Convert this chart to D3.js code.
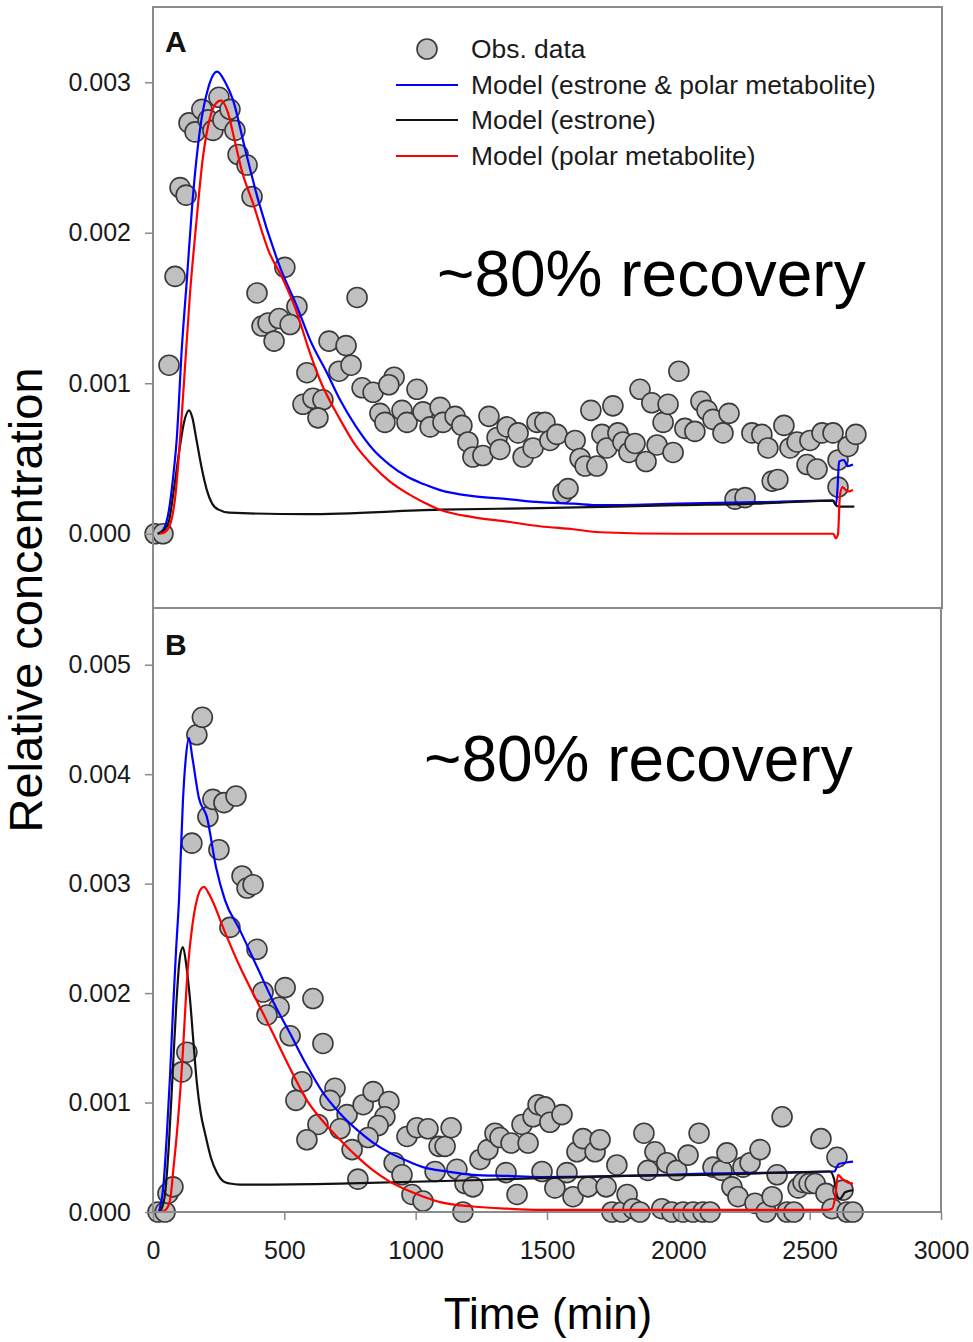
<!DOCTYPE html>
<html>
<head>
<meta charset="utf-8">
<script src="https://cdn.jsdelivr.net/npm/d3@7"></script>
<style>
  body { margin: 0; background: #fff; }
  svg { display: block; font-family: "Liberation Sans", Arial, sans-serif; }
</style>
</head>
<body>
<svg id="chart" width="973" height="1342"></svg>
<script>
// ---------- DATA ----------
const xTicks = [0, 500, 1000, 1500, 2000, 2500, 3000];
const yTicksA = [0, 0.001, 0.002, 0.003];
const yTicksB = [0, 0.001, 0.002, 0.003, 0.004, 0.005];
const legendLabels = ["Obs. data", "Model (estrone & polar metabolite)", "Model (estrone)", "Model (polar metabolite)"];
const panelLabels = ["A", "B"];
const noteText = "~80% recovery";

// Panel A observations [time (min), relative concentration]
const obsA = [
  [8,0],[38,0],[61,0.00112],[84,0.00171],[103,0.00230],[126,0.00225],
  [137,0.00273],[160,0.00267],[186,0.00282],[210,0.00275],[228,0.00268],[251,0.00290],
  [266,0.00275],[293,0.00282],[312,0.00268],[324,0.00252],[358,0.00245],[377,0.00224],
  [396,0.00160],[502,0.00177],[548,0.00151],[777,0.00157],
  [415,0.00138],[438,0.00140],[480,0.00143],[522,0.00139],[461,0.00128],[670,0.00128],[735,0.00125],
  [586,0.00107],[708,0.00108],[754,0.00112],[571,0.00086],[609,0.00090],[647,0.00089],[628,0.00077],
  [796,0.00097],[838,0.00094],[918,0.00104],[898,0.00099],[864,0.00080],[883,0.00074],[948,0.00082],
  [967,0.00074],[1005,0.00096],[1028,0.00081],[1055,0.00071],[1093,0.00084],[1104,0.00074],[1150,0.00078],
  [1176,0.00072],[1199,0.00061],[1218,0.00051],[1256,0.00052],[1279,0.00078],[1310,0.00064],[1321,0.00056],
  [1348,0.00071],[1390,0.00067],[1409,0.00051],[1447,0.00057],[1462,0.00074],
  [1492,0.00074],[1511,0.00062],[1538,0.00066],[1561,0.00027],[1580,0.00030],[1607,0.00062],[1626,0.00050],
  [1645,0.00045],[1667,0.00082],[1690,0.00045],[1709,0.00066],[1728,0.00057],[1751,0.00085],[1770,0.00067],
  [1789,0.00061],[1812,0.00054],[1835,0.00060],[1854,0.00096],[1877,0.00048],[1899,0.00087],[1919,0.00059],
  [1942,0.00074],[1961,0.00086],[1980,0.00054],[2002,0.00108],[2025,0.00070],[2063,0.00068],[2086,0.00088],
  [2109,0.00082],[2132,0.00076],[2170,0.00067],[2193,0.00080],[2216,0.00023],[2254,0.00024],[2280,0.00067],
  [2318,0.00066],[2341,0.00057],[2357,0.00035],[2379,0.00036],[2402,0.00072],[2425,0.00057],[2452,0.00061],
  [2490,0.00046],[2501,0.00062],[2528,0.00043],[2547,0.00067],[2589,0.00067],[2608,0.00049],[2608,0.00031],
  [2646,0.00058],[2676,0.00066]
];
// Panel A model curves
const modelTotalA = [
  [18,0],[40,0.00003],[60,0.00015],[75,0.00035],[90,0.00062],[110,0.00124],[129,0.00169],[150,0.00220],
  [180,0.00270],[210,0.00296],[244,0.00307],[275,0.00300],[305,0.00288],[350,0.00256],[400,0.00222],
  [484,0.00177],[548,0.00151],[600,0.00128],[662,0.00107],[712,0.00089],[770,0.00072],[838,0.00056],
  [900,0.00046],[967,0.00038],[1030,0.00033],[1093,0.00029],[1218,0.00025],[1350,0.00023],[1473,0.00021],
  [1600,0.00020],[1702,0.00019],[2000,0.00020],[2300,0.00021],[2589,0.00022],[2600,0.00019],[2606,0.00030],
  [2612,0.00048],[2630,0.00049],[2645,0.00045],[2665,0.00046]
];
const modelEstroneA = [
  [18,0],[40,0.00002],[60,0.00008],[80,0.00030],[100,0.00055],[118,0.00074],[137,0.00082],[150,0.00077],
  [165,0.00063],[185,0.00044],[205,0.00029],[225,0.00020],[250,0.00016],[290,0.00014],[586,0.00013],
  [1093,0.00016],[1473,0.00017],[2000,0.00019],[2300,0.00020],[2589,0.00022],[2600,0.00019],[2612,0.00018],[2670,0.00018]
];
const modelPolarA = [
  [25,0],[45,0.00001],[65,0.00006],[85,0.00025],[110,0.00080],[141,0.00160],[164,0.00205],[190,0.00250],
  [215,0.00275],[240,0.00286],[259,0.00288],[285,0.00280],[310,0.00262],[340,0.00240],[380,0.00220],
  [440,0.00188],[495,0.00169],[548,0.00147],[590,0.00124],[636,0.00102],[712,0.00076],[770,0.00059],
  [838,0.00045],[900,0.00035],[967,0.00027],[1030,0.00021],[1093,0.00016],[1218,0.00011],[1350,0.00008],
  [1473,0.00005],[1600,0.00003],[1702,0.00001],[2000,0],[2300,0],[2590,0],[2600,-0.00003],[2608,0.00000],
  [2615,0.00025],[2625,0.00031],[2645,0.00028],[2665,0.00029]
];

// Panel B observations
const obsB = [
  [19,0],[46,0],[57,0.00017],[76,0.00023],[110,0.00128],[129,0.00146],[148,0.00337],[167,0.00436],
  [188,0.00452],[209,0.00361],[228,0.00377],[251,0.00331],[270,0.00374],[316,0.00380],[339,0.00307],
  [358,0.00296],[381,0.00299],[293,0.00260],[396,0.00240],[419,0.00201],[503,0.00205],[609,0.00195],
  [480,0.00187],[434,0.00180],[522,0.00161],[647,0.00154],[567,0.00119],[544,0.00102],[693,0.00113],
  [674,0.00102],[628,0.00080],[586,0.00066],[739,0.00089],[712,0.00076],[800,0.00098],[838,0.00110],
  [898,0.00101],[883,0.00087],[857,0.00079],[819,0.00068],[758,0.00057],[780,0.00030],[918,0.00045],
  [948,0.00034],[986,0.00016],[1028,0.00010],[967,0.00069],[1005,0.00077],[1047,0.00076],[1089,0.00060],
  [1112,0.00060],[1135,0.00077],[1074,0.00037],[1157,0.00039],[1188,0.00026],[1218,0.00023],[1180,0],
  [1245,0.00048],[1275,0.00057],[1302,0.00072],[1321,0.00068],[1344,0.00036],[1363,0.00063],[1386,0.00016],
  [1405,0.00080],[1428,0.00063],[1447,0.00087],[1466,0.00098],
  [1492,0.00096],[1511,0.00082],[1557,0.00089],[1481,0.00037],[1530,0.00022],[1576,0.00036],[1599,0.00014],
  [1614,0.00055],[1637,0.00067],[1656,0.00023],[1683,0.00055],[1702,0.00066],[1725,0.00023],[1747,0],
  [1766,0.00043],[1785,0],[1805,0.00016],[1828,0.00003],[1854,0],[1869,0.00072],[1884,0.00038],
  [1911,0.00055],[1937,0.00003],[1956,0.00045],[1975,0],[1994,0.00038],[2018,0],[2037,0.00052],[2056,0],
  [2079,0.00072],[2094,0],[2121,0],[2132,0.00041],[2166,0.00038],[2185,0.00054],[2204,0.00023],
  [2227,0.00014],[2246,0.00041],[2273,0.00045],[2292,0.00008],[2311,0.00057],[2334,0],[2357,0.00014],
  [2376,0.00034],[2395,0.00087],[2414,0],[2440,0],[2456,0.00022],[2475,0.00027],[2498,0.00026],
  [2521,0.00026],[2543,0.00067],[2562,0.00017],[2585,0.00003],[2604,0.00050],[2627,0.00020],[2642,0],[2665,0]
];
// Panel B model curves
const modelTotalB = [
  [22,0],[40,0.00025],[53,0.00072],[65,0.00125],[76,0.00184],[88,0.00240],[99,0.00285],[114,0.00376],
  [125,0.00415],[137,0.00433],[150,0.00415],[175,0.00378],[205,0.00361],[240,0.00315],[274,0.00285],
  [330,0.00258],[396,0.00224],[460,0.00191],[522,0.00163],[585,0.00134],[647,0.00109],[712,0.00090],
  [777,0.00075],[840,0.00063],[902,0.00054],[965,0.00047],[1028,0.00041],[1120,0.00037],[1218,0.00034],
  [1350,0.00033],[1473,0.00032],[1800,0.00033],[2100,0.00035],[2400,0.00036],[2577,0.00037],[2595,0.00037],
  [2603,0.00041],[2612,0.00044],[2635,0.00045],[2665,0.00046]
];
const modelEstroneB = [
  [27,0],[45,0.00015],[60,0.00060],[76,0.00132],[90,0.00195],[102,0.00232],[114,0.00242],[127,0.00225],
  [141,0.00194],[154,0.00155],[167,0.00118],[182,0.00090],[198,0.00072],[220,0.00050],[243,0.00036],
  [268,0.00028],[293,0.00026],[331,0.00025],[712,0.00026],[1218,0.00029],[1473,0.00031],[1800,0.00033],
  [2100,0.00034],[2400,0.00036],[2577,0.00037],[2593,0.00030],[2605,0.00014],[2615,0.00012],[2635,0.00018],[2665,0.00020]
];
const modelPolarB = [
  [27,0],[48,0.00002],[65,0.00011],[78,0.00040],[91,0.00072],[110,0.00132],[133,0.00224],[150,0.00262],
  [167,0.00285],[182,0.00295],[194,0.00297],[210,0.00292],[225,0.00285],[270,0.00258],[331,0.00224],
  [395,0.00193],[457,0.00163],[520,0.00132],[586,0.00102],[650,0.00082],[712,0.00066],[775,0.00051],
  [838,0.00038],[900,0.00028],[967,0.00020],[1030,0.00014],[1093,0.00009],[1218,0.00005],[1350,0.00003],
  [1473,0.00002],[1800,0.00002],[2100,0.00002],[2400,0.00002],[2566,0.00002],[2585,0.00003],[2598,0.00015],
  [2608,0.00034],[2625,0.00030],[2645,0.00027],[2665,0.00026]
];

// ---------- LAYOUT ----------
const svg = d3.select("#chart");
const X0 = 153, X1 = 941;
const x = d3.scaleLinear().domain([0, 3000]).range([X0, X1]);
const yA = d3.scaleLinear().domain([-0.0005, 0.0035]).range([609, 7]);
const yB = d3.scaleLinear().domain([0, 0.0055]).range([1212, 610]);
const frameColor = "#8a8a8a";
const tickFont = 25;

function drawYAxis(y, ticks) {
  const g = svg.append("g").attr("transform", `translate(${X0},0)`);
  g.call(d3.axisLeft(y).tickValues(ticks).tickFormat(d3.format(".3f")).tickSize(8).tickPadding(14));
  g.select(".domain").remove();
  g.selectAll(".tick line").attr("stroke", frameColor).attr("stroke-width", 1.5);
  g.selectAll(".tick text").attr("font-size", tickFont).attr("fill", "#1a1a1a")
    .attr("font-family", "Liberation Sans, Arial, sans-serif");
}

function drawPanel(y, obs, curves) {
  const g = svg.append("g");
  g.selectAll("circle").data(obs).join("circle")
    .attr("cx", d => x(d[0])).attr("cy", d => y(d[1])).attr("r", 10)
    .attr("fill", "#c0c0c0").attr("stroke", "#3a3a3a").attr("stroke-width", 1.6);
  const line = d3.line().x(d => x(d[0])).y(d => y(d[1])).curve(d3.curveMonotoneX);
  curves.forEach(c => {
    g.append("path").attr("d", line(c.data)).attr("fill", "none")
      .attr("stroke", c.color).attr("stroke-width", 2.2);
  });
}

// Panel A
drawPanel(yA, obsA, [
  {data: modelTotalA, color: "#0000ff"},
  {data: modelEstroneA, color: "#111111"},
  {data: modelPolarA, color: "#ff0000"}
]);
svg.append("rect").attr("x", X0).attr("y", 7).attr("width", 942 - X0).attr("height", 601)
  .attr("fill", "none").attr("stroke", frameColor).attr("stroke-width", 2);
drawYAxis(yA, yTicksA);

// Panel B
drawPanel(yB, obsB, [
  {data: modelTotalB, color: "#0000ff"},
  {data: modelEstroneB, color: "#111111"},
  {data: modelPolarB, color: "#ff0000"}
]);
svg.append("path").attr("d", `M${X0},608V1212H${X1}V608`).attr("fill", "none")
  .attr("stroke", frameColor).attr("stroke-width", 2);
drawYAxis(yB, yTicksB);

// X axis
const gx = svg.append("g").attr("transform", "translate(0,1212)");
gx.call(d3.axisBottom(x).tickValues(xTicks).tickFormat(d3.format("d")).tickSize(8).tickPadding(21));
gx.select(".domain").remove();
gx.selectAll(".tick line").attr("stroke", frameColor).attr("stroke-width", 1.5);
gx.selectAll(".tick text").attr("font-size", tickFont).attr("fill", "#1a1a1a")
  .attr("font-family", "Liberation Sans, Arial, sans-serif");

// Panel letters
svg.append("text").attr("x", 165).attr("y", 52).text(panelLabels[0])
  .attr("font-size", 30).attr("font-weight", "bold").attr("fill", "#111");
svg.append("text").attr("x", 165).attr("y", 655).text(panelLabels[1])
  .attr("font-size", 30).attr("font-weight", "bold").attr("fill", "#111");

// Recovery notes
svg.append("text").attr("x", 437).attr("y", 296).text(noteText)
  .attr("font-size", 64).attr("fill", "#000");
svg.append("text").attr("x", 424).attr("y", 781).text(noteText)
  .attr("font-size", 64).attr("fill", "#000");

// Legend
const legY = [49, 85, 120, 156];
const legColors = [null, "#0000ff", "#111111", "#ff0000"];
const lg = svg.append("g");
lg.append("circle").attr("cx", 427).attr("cy", legY[0]).attr("r", 10)
  .attr("fill", "#c0c0c0").attr("stroke", "#3a3a3a").attr("stroke-width", 1.6);
for (let i = 1; i < 4; i++) {
  lg.append("line").attr("x1", 396).attr("x2", 458).attr("y1", legY[i]).attr("y2", legY[i])
    .attr("stroke", legColors[i]).attr("stroke-width", 2.2);
}
legendLabels.forEach((t, i) => {
  lg.append("text").attr("x", 471).attr("y", legY[i]).attr("dy", "0.35em").text(t)
    .attr("font-size", 26.4).attr("fill", "#1a1a1a");
});

// Axis titles
svg.append("text").attr("transform", "translate(42,600) rotate(-90)").attr("text-anchor", "middle")
  .text("Relative concentration").attr("font-size", 47).attr("fill", "#000");
svg.append("text").attr("x", 548).attr("y", 1329).attr("text-anchor", "middle")
  .text("Time (min)").attr("font-size", 44).attr("fill", "#000");
</script>
</body>
</html>
